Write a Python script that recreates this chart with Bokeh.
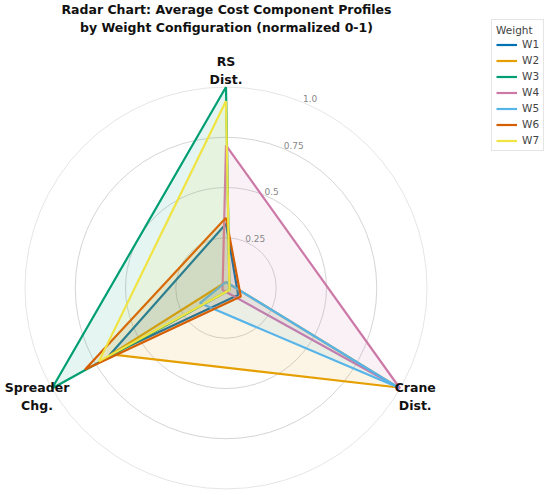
import numpy as np
from bokeh.plotting import figure
from bokeh.models import Range1d, Legend, LegendItem
from bokeh.core.properties import value
from bokeh.embed import file_html
from bokeh.resources import INLINE

# ---- data ----
axes_labels = ["RS\nDist.", "Crane\nDist.", "Spreader\nChg."]
series_names = ["W1", "W2", "W3", "W4", "W5", "W6", "W7"]
W1 = [0.32, 0.07, 0.67]
W2 = [0.03, 0.99, 0.66]
W3 = [1.00, 0.02, 1.00]
W4 = [0.71, 1.00, 0.02]
W5 = [0.03, 0.99, 0.15]
W6 = [0.35, 0.085, 0.81]
W7 = [0.93, 0.02, 0.73]
series_values = [W1, W2, W3, W4, W5, W6, W7]
ring_ticks = [0.25, 0.5, 0.75, 1.0]
ring_labels = ["0.25", "0.5", "0.75", "1.0"]
colors = ["#0072B2", "#E69F00", "#009E73", "#CC79A7", "#56B4E9", "#D55E00", "#F0E442"]

# ---- layout ----
W, H = 550, 495
S = 201.0              # px per unit radius
cx, cy = 225.5, 287.5  # centre in figure px (from top-left)
x0 = -cx / S
x1 = (W - cx) / S
y1 = cy / S
y0 = -(H - cy) / S


def px(x):
    return (x - cx) / S


def py(y):
    return (cy - y) / S


angles = np.deg2rad([90, -30, 210])
FONT = "DejaVu Sans"

p = figure(width=W, height=H, output_backend="svg", toolbar_location=None,
           x_range=Range1d(x0, x1), y_range=Range1d(y0, y1),
           x_axis_type=None, y_axis_type=None, min_border=0,
           background_fill_color="white", border_fill_color="white")
p.outline_line_color = None
p.grid.visible = False

# rings
for r in ring_ticks:
    col = "#e2e2e2" if r == 1.0 else "#cfcfcf"
    p.circle(x=[0], y=[0], radius=r, fill_color=None, line_color=col, line_width=0.9)

# series
items = []
for name, vals, c in zip(series_names, series_values, colors):
    v = np.array(vals)
    xs = list(v * np.cos(angles))
    ys = list(v * np.sin(angles))
    p.patch(xs, ys, fill_color=c, fill_alpha=0.1, line_color=None)
    ln = p.line(xs + [xs[0]], ys + [ys[0]], line_color=c, line_width=2.2)
    items.append(LegendItem(label=name, renderers=[ln]))

# ring labels
la = np.deg2rad(67.5)
p.text(x=[r * np.cos(la) for r in ring_ticks], y=[r * np.sin(la) for r in ring_ticks],
       text=ring_labels, text_font=value(FONT), text_font_size="9px",
       text_color="#888888", text_align="left", text_baseline="bottom")

# axis labels
p.text(x=[px(225.5), px(414.7), px(36.5)], y=[py(70), py(396), py(396)],
       text=axes_labels, text_font=value(FONT), text_font_size="12.5px",
       text_font_style="bold", text_color="#111111", text_align="center",
       text_baseline="middle", text_line_height=1.25)

# title
p.text(x=[px(226)], y=[py(17.5)],
       text=["Radar Chart: Average Cost Component Profiles\nby Weight Configuration (normalized 0-1)"],
       text_font=value(FONT), text_font_size="12.5px", text_font_style="bold",
       text_color="#111111", text_align="center", text_baseline="middle", text_line_height=1.2)

legend = Legend(items=items, title="Weight", location=(491, 344),
                title_text_font=FONT, title_text_font_size="10.5px", title_text_font_style="normal",
                label_text_font=FONT, label_text_font_size="10.5px",
                glyph_width=21, glyph_height=11, label_height=11, label_width=12, spacing=4,
                padding=4, margin=0, title_standoff=2, label_standoff=5,
                border_line_color="#cccccc", border_line_width=1,
                background_fill_color="white", background_fill_alpha=0.9)
p.add_layout(legend)

open("out.html", "w").write(file_html(p, INLINE))
